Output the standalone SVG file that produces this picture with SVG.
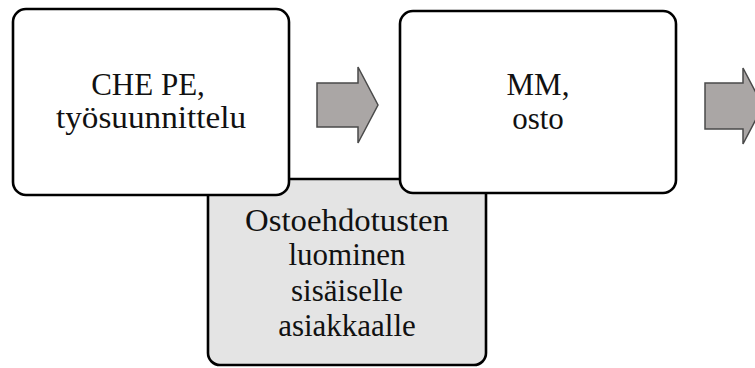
<svg xmlns="http://www.w3.org/2000/svg" width="755" height="368" viewBox="0 0 755 368">
  <style>
    .box { fill: #ffffff; stroke: #000000; stroke-width: 2.6; }
    .sub { fill: #e4e4e4; stroke: #000000; stroke-width: 2.6; }
    .lbl { font-family: 'Liberation Serif', 'DejaVu Serif', 'Times New Roman', serif; font-size: 31px; fill: #111111; text-anchor: middle; }
    .blk { fill: #aaa6a5; stroke: #4a4a4a; stroke-width: 1.5; stroke-linejoin: miter; }
  </style>
  <rect width="755" height="368" fill="#ffffff"/>

  <!-- sub-step box sitting behind the two process boxes -->
  <g id="node-ostoehdotukset">
    <rect class="sub" x="208" y="179" width="278" height="186" rx="12" ry="12"/>
    <text class="lbl" x="347" y="231" textLength="204" lengthAdjust="spacingAndGlyphs">Ostoehdotusten</text>
    <text class="lbl" x="347" y="265">luominen</text>
    <text class="lbl" x="347" y="301">sisäiselle</text>
    <text class="lbl" x="347" y="336">asiakkaalle</text>
  </g>

  <g id="node-che-pe">
    <rect class="box" x="13" y="9" width="276" height="186" rx="13" ry="13"/>
    <text class="lbl" x="148" y="95">CHE PE,</text>
    <text class="lbl" x="151" y="128" textLength="190" lengthAdjust="spacingAndGlyphs">työsuunnittelu</text>
  </g>

  <g id="node-mm">
    <rect class="box" x="400" y="11" width="276" height="182" rx="13" ry="13"/>
    <text class="lbl" x="538" y="95">MM,</text>
    <text class="lbl" x="538" y="129">osto</text>
  </g>

  <!-- block arrows between steps -->
  <g id="connectors">
    <path class="blk" d="M317,83 H358 V67 L378,105 L358,143 V127 H317 Z"/>
    <path class="blk" d="M705,83 H743 V68 L763,106 L743,144 V129 H705 Z"/>
  </g>
</svg>
